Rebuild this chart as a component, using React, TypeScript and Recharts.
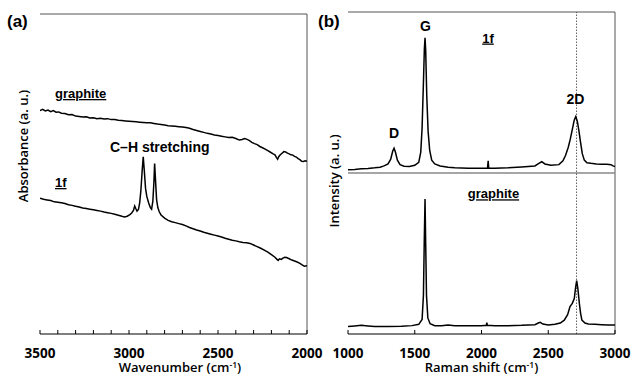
import React from "react";
import { LineChart, Line, XAxis, YAxis, ReferenceLine } from "recharts";

// ---------- FTIR (a) ----------
const irTicks = [3500, 3400, 3300, 3200, 3100, 3000, 2900, 2800, 2700, 2600, 2500, 2400, 2300, 2200, 2100, 2000];
const irTickLabels = [3500, 3000, 2500, 2000];

const graphiteIR: [number, number][] = [
  [3500, 69.8], [3485, 70.2], [3470, 69.7], [3455, 70.0], [3440, 69.5], [3425, 69.8], [3410, 69.3], [3395, 69.4],
  [3380, 69.0], [3360, 68.9], [3340, 68.5], [3320, 68.6], [3300, 68.1], [3280, 68.0], [3260, 67.8], [3240, 67.9],
  [3220, 67.5], [3200, 67.6], [3180, 67.3], [3160, 67.4], [3140, 67.2], [3120, 67.3], [3100, 67.0], [3080, 67.0],
  [3060, 66.8], [3040, 66.7], [3020, 66.6], [3000, 66.5], [2980, 66.4], [2960, 66.3], [2940, 66.2], [2920, 66.1],
  [2900, 66.0], [2880, 66.0], [2860, 65.8], [2840, 65.6], [2820, 65.5], [2800, 65.3], [2780, 65.1], [2760, 65.0],
  [2740, 64.9], [2720, 64.8], [2700, 64.7], [2680, 64.5], [2660, 64.3], [2640, 63.9], [2620, 63.6], [2600, 63.3],
  [2580, 63.0], [2560, 62.7], [2540, 62.5], [2520, 62.2], [2500, 62.0], [2480, 61.8], [2460, 61.6], [2440, 61.4],
  [2420, 61.5], [2400, 61.1], [2380, 60.6], [2365, 60.8], [2350, 61.1], [2340, 60.9], [2325, 60.5], [2310, 59.9],
  [2295, 59.5], [2280, 59.2], [2265, 58.6], [2250, 58.2], [2235, 57.8], [2220, 57.3], [2205, 56.8], [2190, 56.3],
  [2180, 56.0], [2172, 55.2], [2165, 54.6], [2158, 55.5], [2150, 56.0], [2140, 56.5], [2130, 57.0], [2120, 56.9],
  [2110, 56.5], [2100, 56.3], [2090, 56.0], [2080, 55.9], [2070, 55.5], [2060, 55.3], [2050, 54.8], [2040, 54.5],
  [2030, 54.0], [2020, 53.9], [2010, 54.1], [2000, 54.0],
];

const sample1fIR: [number, number][] = [
  [3500, 42.4], [3480, 42.1], [3460, 41.9], [3440, 41.7], [3420, 41.3], [3400, 41.2], [3380, 41.0], [3360, 40.8],
  [3340, 40.4], [3320, 40.2], [3300, 39.9], [3280, 39.7], [3260, 39.4], [3240, 39.2], [3220, 39.0], [3200, 38.8],
  [3180, 38.6], [3160, 38.4], [3140, 38.1], [3120, 37.9], [3100, 37.7], [3080, 37.4], [3060, 37.1], [3040, 36.8],
  [3025, 36.6], [3010, 36.8], [2995, 37.3], [2985, 37.8], [2975, 38.6], [2968, 40.0], [2962, 39.2], [2955, 38.4],
  [2947, 38.9], [2940, 41.0], [2933, 45.0], [2926, 51.0], [2920, 55.4], [2914, 51.0], [2907, 45.5], [2900, 43.0],
  [2890, 41.0], [2880, 39.5], [2873, 39.0], [2866, 41.5], [2860, 47.5], [2856, 53.3], [2851, 48.0], [2845, 42.0],
  [2838, 39.5], [2830, 38.2], [2820, 37.2], [2800, 36.2], [2780, 35.5], [2760, 35.1], [2740, 34.8], [2720, 34.5],
  [2700, 34.2], [2680, 33.8], [2660, 33.3], [2640, 32.9], [2620, 32.5], [2600, 32.2], [2580, 31.8], [2560, 31.5],
  [2540, 31.2], [2520, 30.9], [2500, 30.6], [2480, 30.3], [2460, 29.9], [2440, 29.6], [2420, 29.3], [2400, 29.1],
  [2380, 28.8], [2360, 28.6], [2340, 28.5], [2320, 28.3], [2300, 27.8], [2280, 27.3], [2260, 26.8], [2240, 26.2],
  [2220, 25.6], [2200, 24.8], [2180, 24.0], [2170, 23.4], [2162, 23.0], [2155, 23.5], [2145, 23.3], [2135, 23.7],
  [2125, 24.0], [2115, 23.9], [2100, 23.5], [2085, 23.1], [2070, 22.8], [2055, 22.5], [2040, 22.1], [2025, 21.5],
  [2015, 21.2], [2000, 21.3],
];

// ---------- Raman (b) ----------
const ramanTicks = [1000, 1500, 2000, 2500, 3000];
const ramanMarker = 2712;
const ramanSeparator = 50;

const sample1fRaman: [number, number][] = [
  [1000, 51.0], [1050, 51.1], [1100, 51.3], [1150, 51.4], [1200, 51.6], [1240, 51.8], [1270, 52.2], [1300, 52.8],
  [1320, 54.3], [1335, 56.8], [1345, 57.7], [1355, 56.5], [1370, 54.0], [1390, 52.6], [1420, 52.1], [1460, 52.0],
  [1500, 52.4], [1530, 53.3], [1545, 56.5], [1555, 64.0], [1565, 78.0], [1572, 88.5], [1577, 92.0], [1582, 88.0],
  [1590, 74.0], [1600, 63.0], [1612, 57.0], [1627, 54.0], [1650, 52.8], [1690, 52.2], [1750, 51.8], [1800, 51.6],
  [1900, 51.5], [2000, 51.5], [2045, 51.5], [2050, 53.8], [2054, 51.5], [2100, 51.5], [2200, 51.6], [2300, 51.9],
  [2400, 52.2], [2430, 53.0], [2451, 53.5], [2475, 52.8], [2520, 52.4], [2580, 52.6], [2610, 53.8], [2630, 55.5],
  [2650, 58.0], [2665, 60.5], [2680, 63.5], [2695, 66.5], [2706, 67.5], [2718, 66.0], [2730, 63.0], [2742, 59.5],
  [2755, 56.0], [2770, 54.0], [2790, 53.2], [2820, 53.0], [2860, 52.8], [2900, 52.7], [2940, 52.7], [2970, 52.6],
  [2985, 52.2], [3000, 52.0],
];

const graphiteRaman: [number, number][] = [
  [1000, 2.3], [1050, 2.5], [1100, 2.7], [1150, 2.5], [1200, 2.3], [1300, 2.3], [1400, 2.4], [1480, 2.6],
  [1530, 3.0], [1555, 4.5], [1565, 12.0], [1571, 28.0], [1577, 41.9], [1582, 28.0], [1588, 12.0], [1598, 5.0],
  [1615, 3.2], [1650, 2.6], [1700, 2.6], [1750, 2.8], [1800, 2.6], [1900, 2.6], [2000, 2.6], [2036, 2.7],
  [2040, 3.5], [2044, 2.7], [2100, 2.6], [2200, 2.6], [2300, 2.7], [2400, 2.9], [2425, 3.4], [2440, 3.6],
  [2460, 3.1], [2500, 2.8], [2550, 3.0], [2590, 3.4], [2620, 4.3], [2645, 6.0], [2663, 8.5], [2680, 9.5],
  [2695, 11.0], [2705, 14.5], [2713, 16.6], [2722, 14.0], [2733, 9.5], [2742, 6.5], [2752, 4.3], [2775, 3.4],
  [2800, 3.1], [2850, 3.0], [2900, 2.9], [2950, 2.8], [3000, 2.8],
];

const toData = (arr: [number, number][]) => arr.map(([x, y]) => ({ x, y }));

const AX_FONT = "'Open Sans', sans-serif";
const ANN_FONT = "'Liberation Sans', Arial, sans-serif";

const makeTick = (labels: number[], len: number) => (props: any) => {
  const { x, y, payload } = props;
  const show = labels.includes(payload.value);
  return (
    <g>
      <line x1={x} x2={x} y1={y} y2={y - len} stroke="#000" strokeWidth={1} />
      {show && (
        <text x={x} y={y + 24} textAnchor="middle" fontFamily={AX_FONT} fontWeight={700} fontSize={13.5} fill="#000">
          {payload.value}
        </text>
      )}
    </g>
  );
};

const IrTick = makeTick(irTickLabels, 4);
const RamanTick = makeTick(ramanTicks, 4);

export default function App() {
  return (
    <div style={{ position: "absolute", left: 0, top: 0, width: 634, height: 384, background: "#fff" }}>
      <div style={{ position: "absolute", left: 0, top: 0 }}>
        <LineChart width={334} height={384} margin={{ top: 14, right: 27, bottom: 0, left: 40 }}>
          <XAxis
            dataKey="x"
            type="number"
            domain={[2000, 3500]}
            reversed
            ticks={irTicks}
            interval={0}
            height={50}
            tickSize={0}
            tickMargin={0}
            tickLine={false}
            tick={IrTick}
            axisLine={{ stroke: "#000", strokeWidth: 1.2 }}
            allowDataOverflow
          />
          <YAxis type="number" domain={[0, 100]} width={0} tick={false} tickLine={false} axisLine={{ stroke: "#000", strokeWidth: 1.2 }} />
          <ReferenceLine y={100} stroke="#555" strokeWidth={1} />
          <ReferenceLine x={2000} stroke="#555" strokeWidth={1} />
          <Line data={toData(graphiteIR)} dataKey="y" type="linear" stroke="#000" strokeWidth={1.5} dot={false} isAnimationActive={false} />
          <Line data={toData(sample1fIR)} dataKey="y" type="linear" stroke="#000" strokeWidth={1.5} dot={false} isAnimationActive={false} />
        </LineChart>
      </div>
      <div style={{ position: "absolute", left: 320, top: 0 }}>
        <LineChart width={314} height={384} margin={{ top: 12, right: 19, bottom: 0, left: 28 }}>
          <XAxis
            dataKey="x"
            type="number"
            domain={[1000, 3000]}
            ticks={ramanTicks}
            interval={0}
            height={50}
            tickSize={0}
            tickMargin={0}
            tickLine={false}
            tick={RamanTick}
            axisLine={{ stroke: "#000", strokeWidth: 1.2 }}
            allowDataOverflow
          />
          <YAxis type="number" domain={[0, 100]} width={0} tick={false} tickLine={false} axisLine={{ stroke: "#000", strokeWidth: 1.2 }} />
          <ReferenceLine y={100} stroke="#555" strokeWidth={1} />
          <ReferenceLine x={3000} stroke="#555" strokeWidth={1} />
          <ReferenceLine y={ramanSeparator} stroke="#888" strokeWidth={1.6} />
          <ReferenceLine x={ramanMarker} stroke="#333" strokeWidth={0.8} strokeDasharray="1.5 1.5" />
          <Line data={toData(sample1fRaman)} dataKey="y" type="linear" stroke="#000" strokeWidth={1.5} dot={false} isAnimationActive={false} />
          <Line data={toData(graphiteRaman)} dataKey="y" type="linear" stroke="#000" strokeWidth={1.5} dot={false} isAnimationActive={false} />
        </LineChart>
      </div>
      <svg width={634} height={384} style={{ position: "absolute", left: 0, top: 0, pointerEvents: "none" }}>
        <g fontFamily={ANN_FONT} fontWeight={700} fill="#000">
          <text x={7} y={27} fontSize={17}>(a)</text>
          <text x={318} y={27} fontSize={17}>(b)</text>
          <text x={55} y={98} fontSize={13} textDecoration="underline">graphite</text>
          <text x={55} y={187} fontSize={13} textDecoration="underline">1f</text>
          <text x={110} y={151.5} fontSize={14}>C–H stretching</text>
          <text x={425.5} y={30.5} fontSize={14} textAnchor="middle">G</text>
          <text x={394} y={137.5} fontSize={14} textAnchor="middle">D</text>
          <text x={575.5} y={104.3} fontSize={14} textAnchor="middle">2D</text>
          <text x={488} y={42.5} fontSize={13} textAnchor="middle" textDecoration="underline">1f</text>
          <text x={493.5} y={198.3} fontSize={13} textAnchor="middle" textDecoration="underline">graphite</text>
        </g>
        <g fontFamily={AX_FONT} fontWeight={600} fontSize={13} fill="#000">
          <text x={180} y={372} textAnchor="middle">
            Wavenumber (cm<tspan dy={-4.5} fontSize={8.5}>-1</tspan><tspan dy={4.5}>)</tspan>
          </text>
          <text x={481.5} y={372} textAnchor="middle">
            Raman shift (cm<tspan dy={-4.5} fontSize={8.5}>-1</tspan><tspan dy={4.5}>)</tspan>
          </text>
          <text transform="translate(28,146) rotate(-90)" textAnchor="middle">Absorbance (a. u.)</text>
          <text transform="translate(339,181) rotate(-90)" textAnchor="middle">Intensity (a. u.)</text>
        </g>
      </svg>
    </div>
  );
}
